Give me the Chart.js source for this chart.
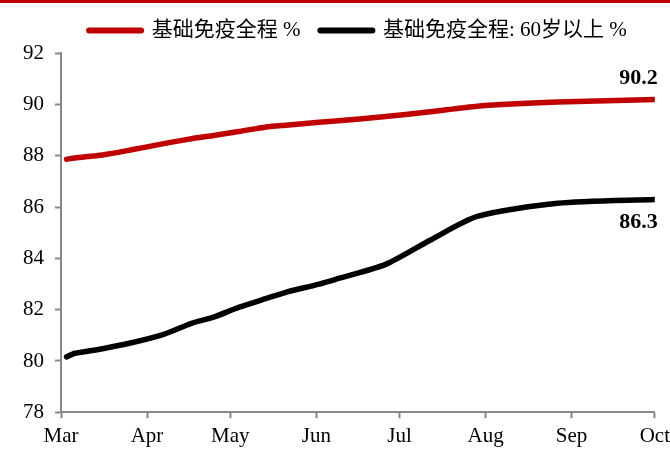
<!DOCTYPE html>
<html>
<head>
<meta charset="utf-8">
<script src="https://cdn.jsdelivr.net/npm/chart.js@4/dist/chart.umd.min.js"></script>
<style>
  html, body { margin: 0; padding: 0; background: #fff; }
  #wrap { width: 670px; height: 450px; position: relative; }
  #wrap::before { content: ''; position: absolute; left: 0; top: 0; width: 100%; height: 3px; background: #c00000; }
  canvas { display: block; }
</style>
</head>
<body>
<div id="wrap"><canvas id="chart" width="670" height="450"></canvas></div>
<script>
// days counted from 1 March
const days = [2, 5, 15, 25, 37, 47, 55, 64, 74, 81, 93, 100, 117, 133, 150, 179, 214];
const fullCourse = [87.87, 87.92, 88.04, 88.23, 88.48, 88.67, 88.80, 88.95, 89.13, 89.20, 89.31, 89.37, 89.54, 89.72, 89.94, 90.10, 90.2];
const fullCourse60 = [80.16, 80.30, 80.48, 80.70, 81.04, 81.47, 81.71, 82.09, 82.44, 82.68, 83.00, 83.22, 83.77, 84.71, 85.64, 86.15, 86.3];
const monthStarts = [0, 31, 61, 92, 122, 153, 184, 214];
const monthNames = ['Mar', 'Apr', 'May', 'Jun', 'Jul', 'Aug', 'Sep', 'Oct'];
const seriesNames = ['基础免疫全程 %', '基础免疫全程: 60岁以上 %'];

const serif = '"Liberation Serif", "Times New Roman", serif';
const legendFont = '"Liberation Serif", "Noto Sans CJK SC", serif';

const toPoints = (vals) => vals.map((v, i) => ({ x: days[i], y: v }));

// bold value labels at the last point of each line
const endLabels = {
  id: 'endLabels',
  afterDatasetsDraw(chart) {
    const ctx = chart.ctx;
    ctx.save();
    ctx.font = 'bold 22px ' + serif;
    ctx.fillStyle = '#000';
    ctx.textAlign = 'right';
    chart.data.datasets.forEach((ds, i) => {
      const meta = chart.getDatasetMeta(i);
      const last = meta.data[meta.data.length - 1];
      const v = ds.data[ds.data.length - 1].y;
      if (i === 0) {
        ctx.textBaseline = 'alphabetic';
        ctx.fillText(v.toFixed(1), last.x + 3, last.y - 16);
      } else {
        ctx.textBaseline = 'top';
        ctx.fillText(v.toFixed(1), last.x + 3, last.y + 12);
      }
    });
    ctx.restore();
  }
};

const axisGrid = { display: true, drawOnChartArea: false, color: '#888', tickLength: 6, tickWidth: 2 };

new Chart(document.getElementById('chart'), {
  type: 'line',
  data: {
    datasets: [
      {
        label: seriesNames[0],
        data: toPoints(fullCourse),
        borderColor: '#c00000',
        borderWidth: 5.5,
        borderCapStyle: 'round',
        pointRadius: 0,
        tension: 0.25
      },
      {
        label: seriesNames[1],
        data: toPoints(fullCourse60),
        borderColor: '#000',
        borderWidth: 5.5,
        borderCapStyle: 'round',
        pointRadius: 0,
        tension: 0.25
      }
    ]
  },
  options: {
    responsive: false,
    animation: false,
    layout: { padding: { top: 0, right: 15, left: 12, bottom: -5 } },
    plugins: {
      tooltip: { enabled: false },
      legend: {
        position: 'top',
        fullSize: false,
        labels: {
          color: '#000',
          font: { family: legendFont, size: 21 },
          usePointStyle: true,
          pointStyleWidth: 52,
          boxHeight: 6,
          padding: 20,
          generateLabels(chart) {
            return chart.data.datasets.map((ds, i) => ({
              text: ds.label,
              pointStyle: 'line',
              strokeStyle: ds.borderColor,
              fillStyle: ds.borderColor,
              lineWidth: 6,
              lineCap: 'round',
              datasetIndex: i
            }));
          }
        }
      },
      // empty subtitle sits between legend and plot as a small gap
      subtitle: {
        display: true,
        text: '',
        weight: 500,
        font: { size: 2 },
        padding: 0
      }
    },
    scales: {
      x: {
        type: 'linear',
        min: 0,
        max: 214,
        afterBuildTicks(axis) {
          axis.ticks = monthStarts.map(v => ({ value: v }));
        },
        grid: axisGrid,
        border: { color: '#888', width: 2 },
        ticks: {
          color: '#000',
          font: { family: serif, size: 21, lineHeight: 1.75 },
          padding: 0,
          maxRotation: 0,
          callback(v) {
            const i = monthStarts.indexOf(v);
            return i >= 0 ? monthNames[i] : '';
          }
        }
      },
      y: {
        min: 78,
        max: 92,
        ticks: {
          stepSize: 2,
          color: '#000',
          font: { family: serif, size: 21 },
          padding: 11
        },
        grid: axisGrid,
        border: { color: '#888', width: 2 }
      }
    }
  },
  plugins: [endLabels]
});
</script>
</body>
</html>
